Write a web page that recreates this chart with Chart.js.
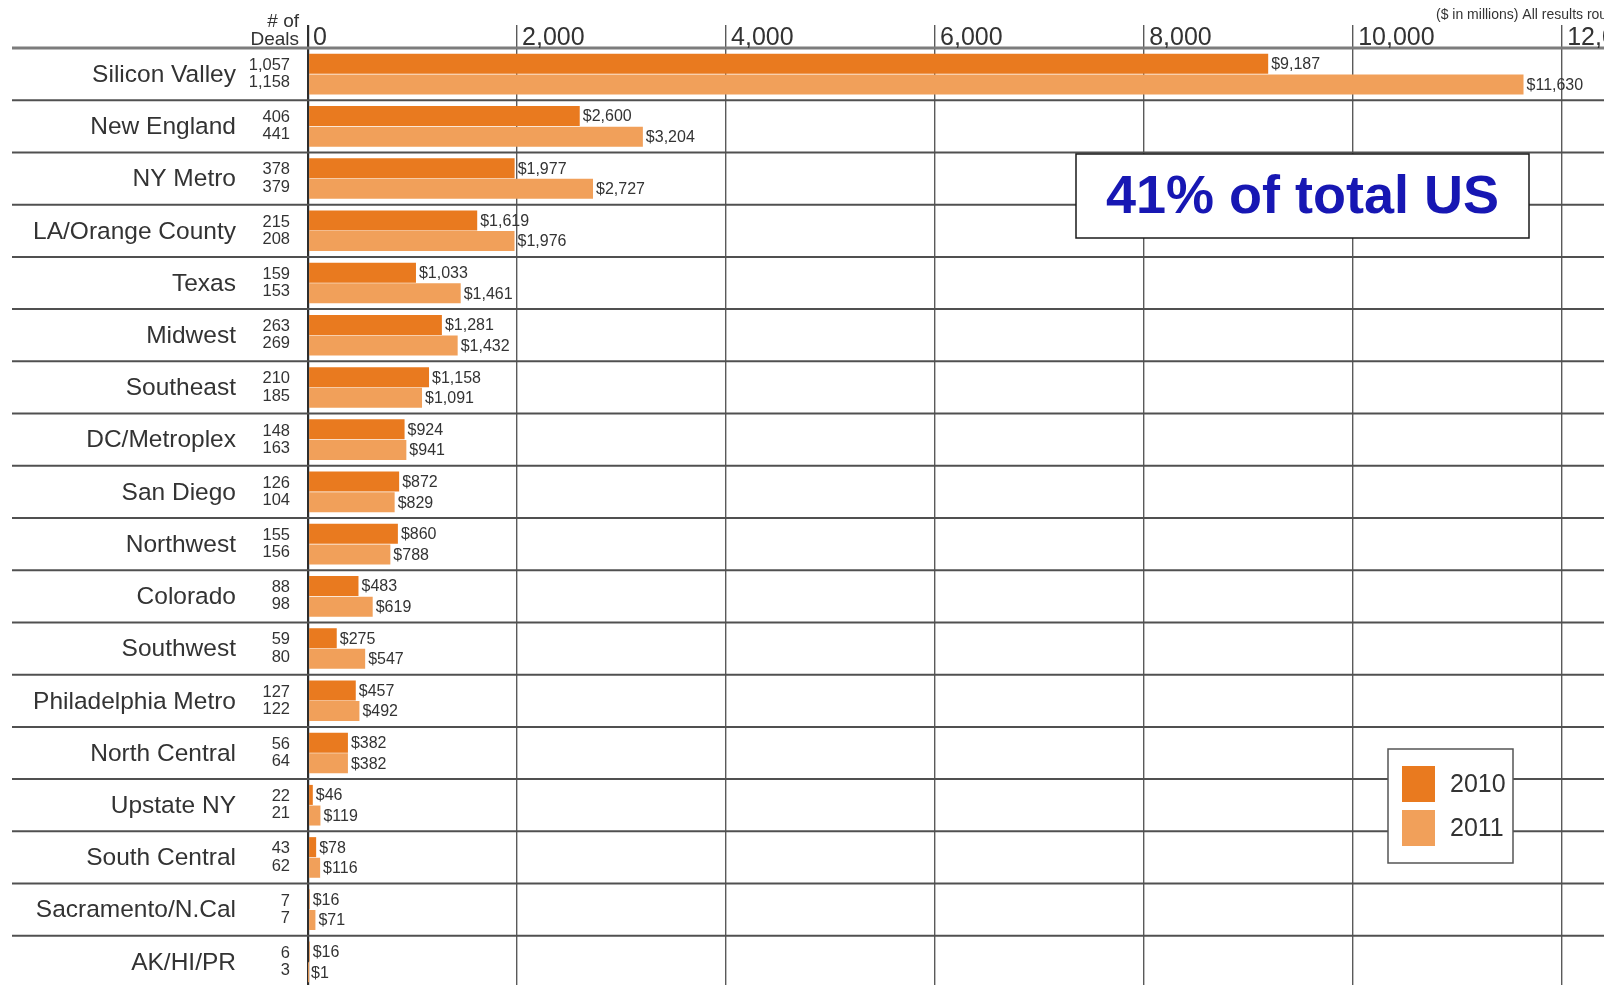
<!DOCTYPE html>
<html>
<head>
<meta charset="utf-8">
<title>Venture investment by region, 2010 vs 2011</title>
<script src="https://cdn.jsdelivr.net/npm/chart.js@4.4.1/dist/chart.umd.min.js"></script>
<style>
  html, body { margin: 0; padding: 0; background: #fff; overflow: hidden; }
  #wrap { position: relative; width: 1612px; height: 990px; }
</style>
</head>
<body>
<div id="wrap"><canvas id="chart"></canvas></div>
<script>
// ── Data ($ in millions, deal counts) ─────────────────────────────────────
const regions = [
  'Silicon Valley', 'New England', 'NY Metro', 'LA/Orange County', 'Texas',
  'Midwest', 'Southeast', 'DC/Metroplex', 'San Diego', 'Northwest', 'Colorado',
  'Southwest', 'Philadelphia Metro', 'North Central', 'Upstate NY',
  'South Central', 'Sacramento/N.Cal', 'AK/HI/PR',
];
const deals2010 = [1057, 406, 378, 215, 159, 263, 210, 148, 126, 155, 88, 59, 127, 56, 22, 43, 7, 6];
const deals2011 = [1158, 441, 379, 208, 153, 269, 185, 163, 104, 156, 98, 80, 122, 64, 21, 62, 7, 3];
const invested2010 = [9187, 2600, 1977, 1619, 1033, 1281, 1158, 924, 872, 860, 483, 275, 457, 382, 46, 78, 16, 16];
const invested2011 = [11630, 3204, 2727, 1976, 1461, 1432, 1091, 941, 829, 788, 619, 547, 492, 382, 119, 116, 71, 1];
const seriesLabels = ['2010', '2011'];
const xTicks = [0, 2000, 4000, 6000, 8000, 10000, 12000];
const calloutText = '41% of total US';
const unitsNote = '($ in millions) All results rounded';

const COLOR_2010 = '#e97a1f';
const COLOR_2011 = '#f1a05a';
const TEXT = '#333333';
const RULE = '#505050';
const FONT = "'Liberation Sans', Arial, sans-serif";
const LEFT_EDGE = 12;

const fmt = v => v.toLocaleString('en-US');

function hline(ctx, x0, x1, y) {
  ctx.beginPath();
  ctx.moveTo(x0, y);
  ctx.lineTo(x1, y);
  ctx.stroke();
}

// ── Rules, labels, callout and legend ────────────────────────────────────
const decor = {
  id: 'decor',
  beforeDatasetsDraw(chart) {
    const { ctx, chartArea, scales: { y } } = chart;
    const half = (y.getPixelForValue(1) - y.getPixelForValue(0)) / 2;
    ctx.save();
    ctx.strokeStyle = RULE;
    ctx.lineWidth = 2;
    regions.forEach((_, i) => hline(ctx, LEFT_EDGE, chartArea.right, y.getPixelForValue(i) + half));
    ctx.strokeStyle = '#7c7c7c';
    ctx.lineWidth = 3;
    hline(ctx, LEFT_EDGE, chartArea.right, y.getPixelForValue(0) - half);
    ctx.restore();
  },

  afterDatasetsDraw(chart) {
    const { ctx, chartArea, scales: { x, y } } = chart;
    const top = chartArea.top;
    ctx.save();

    // axis values along the top
    ctx.save();
    ctx.beginPath();
    ctx.rect(0, 0, chartArea.right, top);
    ctx.clip();
    ctx.fillStyle = TEXT;
    ctx.font = `25px ${FONT}`;
    ctx.textAlign = 'left';
    ctx.textBaseline = 'alphabetic';
    xTicks.forEach(v => ctx.fillText(fmt(v), x.getPixelForValue(v) + 5, top - 3));
    ctx.font = `14px ${FONT}`;
    ctx.fillText(unitsNote, 1436, 19);
    ctx.restore();

    // "# of Deals" header
    ctx.fillStyle = TEXT;
    ctx.font = `19px ${FONT}`;
    ctx.textAlign = 'right';
    ctx.fillText('# of', 299, 27);
    ctx.fillText('Deals', 299, 45);

    // region names and deal counts
    const half = (y.getPixelForValue(1) - y.getPixelForValue(0)) / 2;
    ctx.textBaseline = 'middle';
    regions.forEach((name, i) => {
      const cy = y.getPixelForValue(i);
      ctx.font = `24.5px ${FONT}`;
      ctx.fillText(name, 236, cy + 1);
      ctx.font = `16.5px ${FONT}`;
      ctx.fillText(fmt(deals2010[i]), 290, cy - half * 0.33);
      ctx.fillText(fmt(deals2011[i]), 290, cy + half * 0.33);
    });

    // dollar labels at the end of each bar
    ctx.textAlign = 'left';
    ctx.font = `16px ${FONT}`;
    [invested2010, invested2011].forEach((values, d) => {
      chart.getDatasetMeta(d).data.forEach((bar, i) => {
        ctx.fillText('$' + fmt(values[i]), bar.x + 3, bar.y + 1);
      });
    });

    // callout box
    const box = { l: 1076, t: 154, r: 1529, b: 238 };
    ctx.fillStyle = '#fff';
    ctx.fillRect(box.l, box.t, box.r - box.l, box.b - box.t);
    ctx.strokeStyle = '#1a1a1a';
    ctx.lineWidth = 1.5;
    ctx.strokeRect(box.l, box.t, box.r - box.l, box.b - box.t);
    ctx.fillStyle = '#1717b3';
    ctx.font = `bold 54px ${FONT}`;
    ctx.textAlign = 'center';
    ctx.fillText(calloutText, (box.l + box.r) / 2, (box.t + box.b) / 2 + 2);

    // legend
    const lg = { l: 1388, t: 749, r: 1513, b: 863 };
    ctx.fillStyle = '#fff';
    ctx.fillRect(lg.l, lg.t, lg.r - lg.l, lg.b - lg.t);
    ctx.strokeStyle = '#555';
    ctx.strokeRect(lg.l, lg.t, lg.r - lg.l, lg.b - lg.t);
    ctx.textAlign = 'left';
    ctx.font = `25px ${FONT}`;
    [COLOR_2010, COLOR_2011].forEach((c, i) => {
      const sy = 766 + i * 44;
      ctx.fillStyle = c;
      ctx.fillRect(1402, sy, 33, 36);
      ctx.fillStyle = TEXT;
      ctx.fillText(seriesLabels[i], 1450, sy + 19);
    });

    ctx.restore();
  },
};

new Chart(document.getElementById('chart'), {
  type: 'bar',
  data: {
    labels: regions,
    datasets: [
      { label: seriesLabels[0], data: invested2010, backgroundColor: COLOR_2010 },
      { label: seriesLabels[1], data: invested2011, backgroundColor: COLOR_2011 },
    ],
  },
  options: {
    indexAxis: 'y',
    responsive: true,
    maintainAspectRatio: false,
    animation: false,
    categoryPercentage: 0.79,
    barPercentage: 0.97,
    layout: { padding: { left: 308, right: 8, top: 25, bottom: 2 } },
    plugins: { legend: { display: false }, tooltip: { enabled: false } },
    scales: {
      x: {
        position: 'top',
        min: 0,
        max: 12400,
        afterBuildTicks: scale => { scale.ticks = xTicks.map(value => ({ value })); },
        ticks: { display: false },
        border: { display: false },
        grid: {
          drawTicks: true,
          tickLength: 23,
          color: c => (c.tick && c.tick.value === 0 ? '#2e2e2e' : '#5a5a5a'),
          lineWidth: c => (c.tick && c.tick.value === 0 ? 2.2 : 1.4),
        },
      },
      y: { display: false },
    },
  },
  plugins: [decor],
});
</script>
</body>
</html>
